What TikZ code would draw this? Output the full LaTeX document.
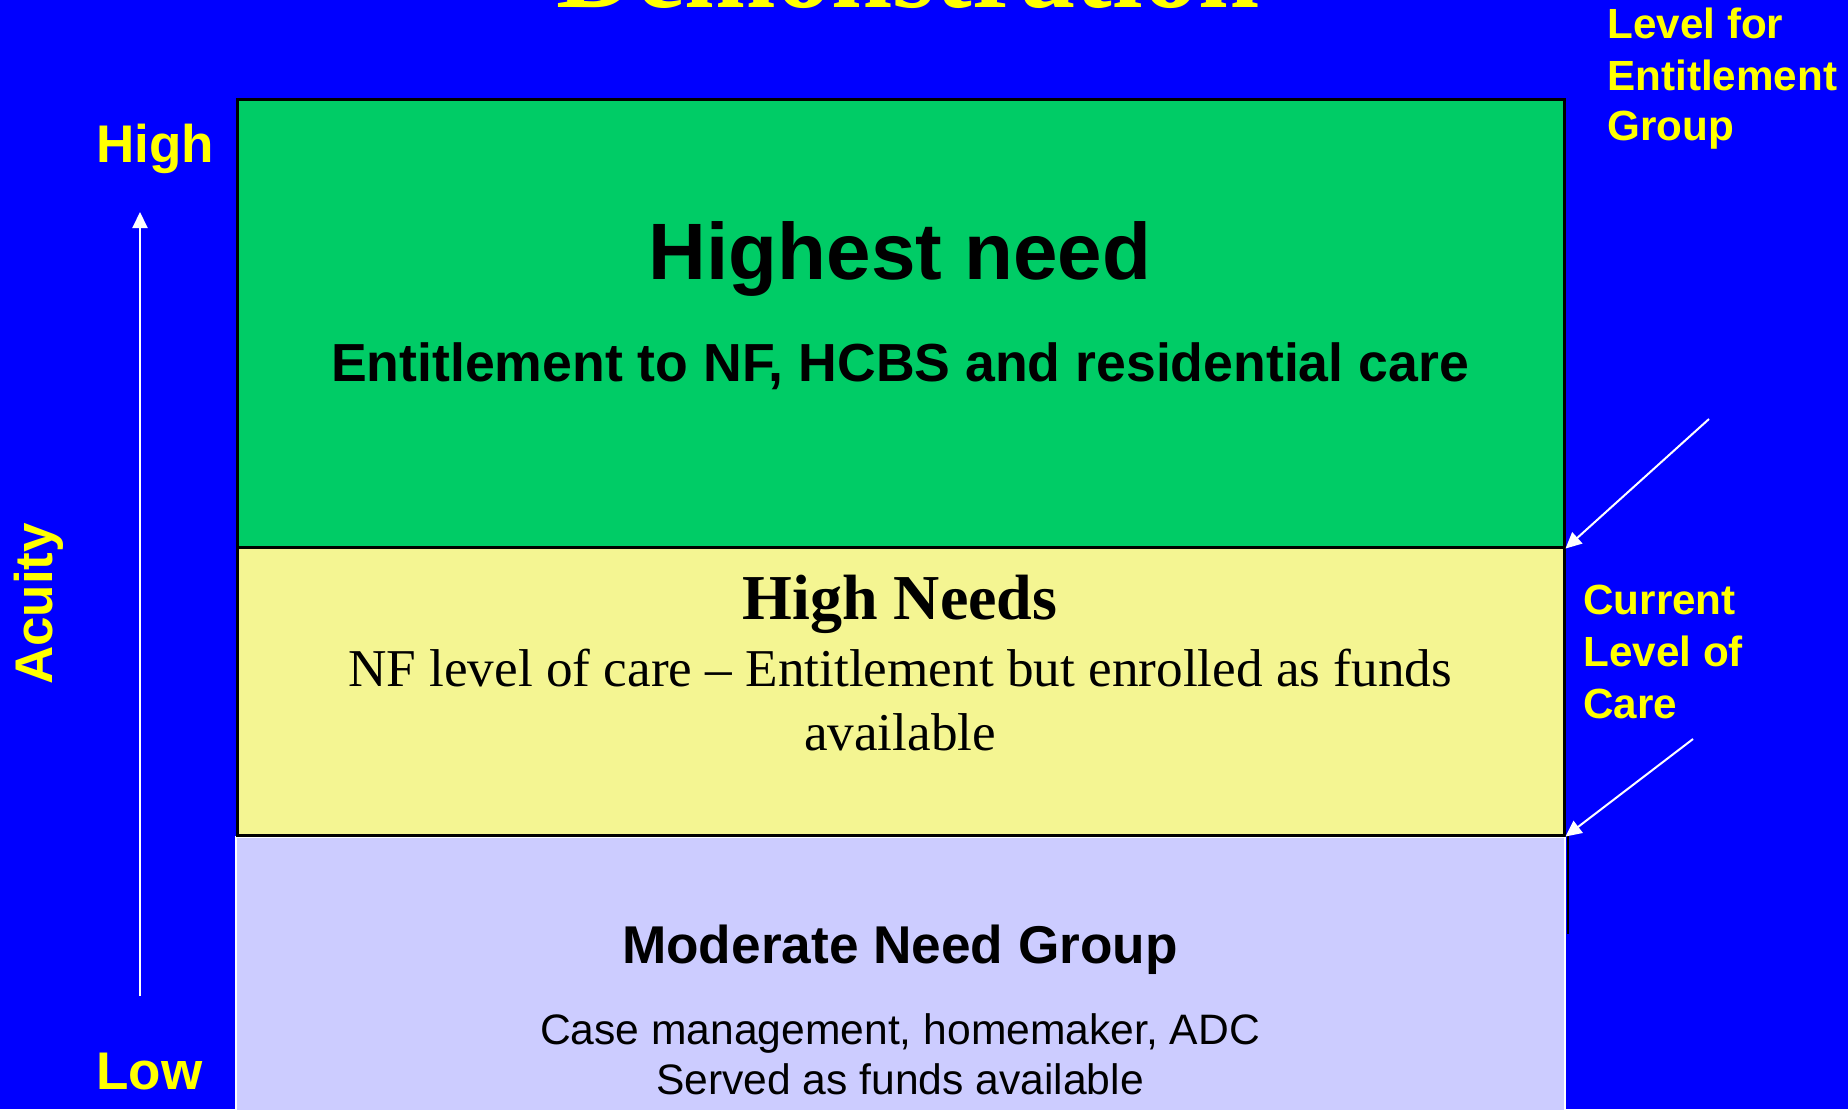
\documentclass[tikz,border=0pt]{standalone}
\usepackage{fontspec}
\setmainfont{Liberation Serif}
\newfontfamily\arialfont{Liberation Sans}
\usetikzlibrary{arrows.meta}
\definecolor{bgblue}{HTML}{0000FF}
\definecolor{boxgreen}{HTML}{00CC66}
\definecolor{boxyellow}{HTML}{F4F592}
\definecolor{boxlav}{HTML}{CCCCFF}
\definecolor{labyellow}{HTML}{FFFF00}
\tikzset{
  txt/.style={inner sep=0pt, anchor=base},
  lab/.style={txt, anchor=base west, text=labyellow, font=\arialfont\bfseries\fontsize{21.1}{25}\selectfont},
  axislab/.style={txt, anchor=base west, text=labyellow, font=\arialfont\bfseries\fontsize{26.5}{30}\selectfont},
  band/.style={draw=black, line width=1.5pt, inner sep=0pt, minimum width=663.5pt},
  pointer/.style={draw=white, line width=1pt, -{Triangle[length=8pt,width=7.5pt]}},
}
\begin{document}
\begin{tikzpicture}[x=0.5pt,y=-0.5pt]
\useasboundingbox (0,0) rectangle (1848,1109);
\fill[bgblue] (0,0) rectangle (1848,1109);

% title (mostly cut off at the top)
\node[txt, text=labyellow, font=\bfseries\fontsize{55}{60}\selectfont] (title) at (908,7) {Demonstration};

% bands
\node[band, draw=white, line width=1pt, fill=boxlav, minimum width=664.5pt, minimum height=141.5pt] (moderate) at (900.5,978.5) {};
\node[band, fill=boxyellow, minimum height=144pt] (high) at (900.5,691) {};
\node[band, fill=boxgreen, minimum height=224pt] (highest) at (900.5,323) {};
\draw[black, line width=0.6pt] ([xshift=1pt]moderate.north east) -- ++(0,98);

% texts in green band
\node[txt, font=\arialfont\bfseries\fontsize{40}{46}\selectfont] (t1) at (900,279) {Highest need};
\node[txt, font=\arialfont\bfseries\fontsize{26.8}{31}\selectfont] (t2) at (900,381) {Entitlement to NF, HCBS and residential care};

% texts in yellow band
\node[txt, font=\bfseries\fontsize{32}{37}\selectfont] (t3) at (900,619) {High Needs};
\node[txt, font=\fontsize{26.6}{32}\selectfont] (t4) at (900,686) {NF level of care -- Entitlement but enrolled as funds};
\node[txt, font=\fontsize{26.6}{32}\selectfont] (t4b) at (900,750) {available};

% texts in lavender band
\node[txt, font=\arialfont\bfseries\fontsize{26.6}{31}\selectfont] (t5) at (900,963) {Moderate Need Group};
\node[txt, font=\arialfont\fontsize{21.3}{25}\selectfont] (t6) at (900,1044) {Case management, homemaker, ADC};
\node[txt, font=\arialfont\fontsize{21.3}{25}\selectfont] (t6b) at (900,1094) {Served as funds available};

% acuity axis
\node[axislab] (hi) at (96,162) {High};
\node[axislab] (lo) at (96,1089) {Low};
\node[txt, rotate=90, text=labyellow, font=\arialfont\bfseries\fontsize{26.5}{30}\selectfont] (acuity) at (53,604) {Acuity};
\coordinate (axbot) at (140,996);
\coordinate (axtop) at (140,212);
\draw[pointer] (axbot) -- (axtop);

% right labels
\node[lab] (e1) at (1607,38) {Level for};
\node[lab] (e2) at (1607,90) {Entitlement};
\node[lab] (e3) at (1607,140) {Group};
\node[lab] (c1) at (1583,614) {Current};
\node[lab] (c2) at (1583,666) {Level of};
\node[lab] (c3) at (1583,718) {Care};

% pointers
\coordinate (p1s) at (1709,419);
\coordinate (p2s) at (1693,739);
\draw[pointer] (p1s) -- (highest.south east);
\draw[pointer] (p2s) -- (high.south east);
\end{tikzpicture}
\end{document}
